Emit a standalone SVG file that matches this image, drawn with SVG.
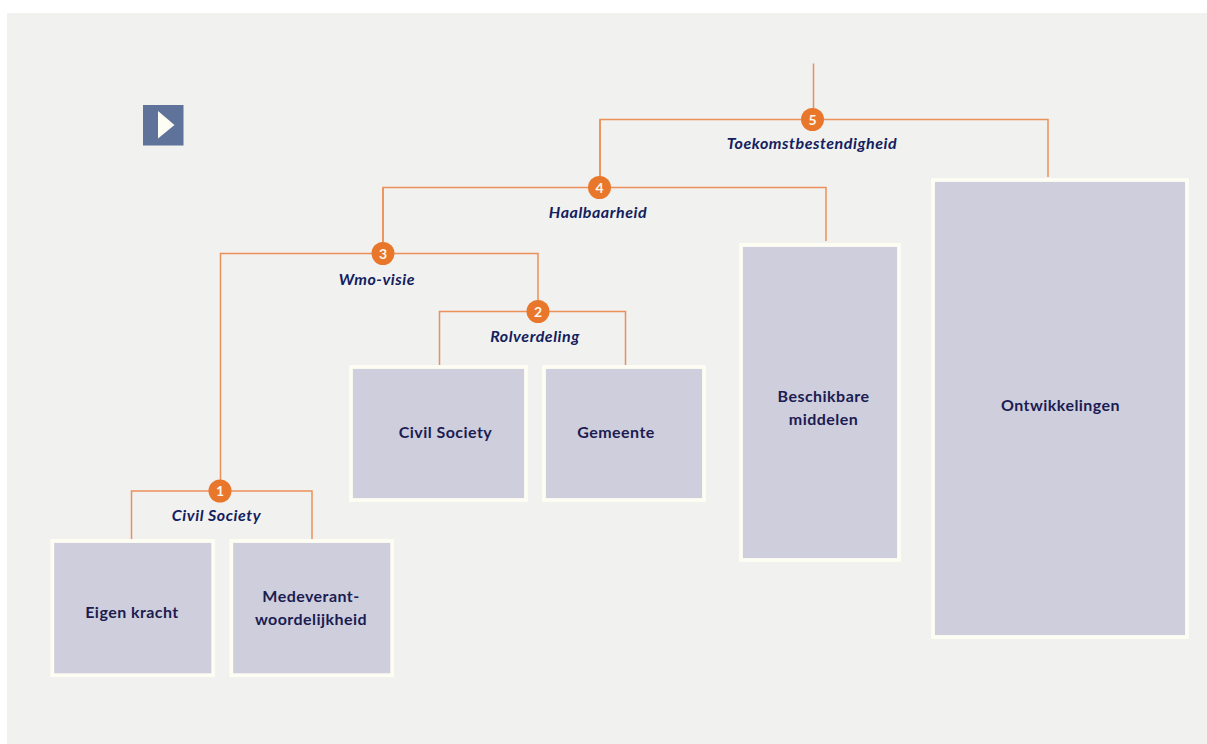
<svg xmlns="http://www.w3.org/2000/svg" width="1207" height="744" viewBox="0 0 1207 744">
<style>
.box{fill:#cfcedc;stroke:#fdfdf3;stroke-width:3.8}
.lbl{font-family:"Lato","Noto Sans",sans-serif;font-size:16px;font-weight:700;fill:#1b1c52;text-anchor:middle;letter-spacing:.45px}
.cap{font-family:"Lato","Noto Sans",sans-serif;font-size:16px;font-weight:700;font-style:italic;fill:#12205e;text-anchor:middle;letter-spacing:.55px}
.dot{fill:#e9772b}
.num{font-family:"Lato","Noto Sans",sans-serif;font-size:14px;font-weight:700;fill:#fdf6e8;text-anchor:middle}
.con{fill:none;stroke:#ec9059;stroke-width:1.5}
</style>
<rect width="1207" height="744" fill="#ffffff"/>
<rect x="7" y="13" width="1200" height="731" fill="#f1f1ef"/>
<g id="play"><rect x="143" y="105" width="40.500" height="40.500" fill="#5f7299"/><polygon points="158,111 174.500,125 158,138.500" fill="#fdfdf3"/></g>
<g id="connectors" class="con">
<path d="M813.500 63.500V119M600 177V119.500H1048V177"/>
<path d="M383 243V187.500H826V241M600 119.500V187"/>
<path d="M220.500 491V253.500H538V311M383 187.500V253"/>
<path d="M439.500 365V311.500H625.500V365"/>
<path d="M131.500 539V491H312V539"/>
</g>
<g id="n1"><circle class="dot" cx="220" cy="491" r="11.500"/><text class="num" x="220" y="496">1</text><text class="cap" x="216.500" y="521">Civil Society</text></g>
<g id="n2"><circle class="dot" cx="538" cy="311.500" r="11.500"/><text class="num" x="538" y="316.500">2</text><text class="cap" x="535" y="342">Rolverdeling</text></g>
<g id="n3"><circle class="dot" cx="383" cy="253.500" r="11.500"/><text class="num" x="383" y="258.500">3</text><text class="cap" x="377" y="284.500">Wmo-visie</text></g>
<g id="n4"><circle class="dot" cx="599.500" cy="187.500" r="11.500"/><text class="num" x="599.500" y="192.500">4</text><text class="cap" x="598" y="218">Haalbaarheid</text></g>
<g id="n5"><circle class="dot" cx="812.500" cy="119.500" r="11.500"/><text class="num" x="812.500" y="124.500">5</text><text class="cap" x="812" y="149">Toekomstbestendigheid</text></g>
<g id="eigen"><rect class="box" x="52.300" y="541" width="160.900" height="134.200"/><text class="lbl" x="132" y="618">Eigen kracht</text></g>
<g id="mede"><rect class="box" x="231.300" y="541" width="160.900" height="134.200"/><text class="lbl" x="311" y="602">Medeverant-</text><text class="lbl" x="311" y="625">woordelijkheid</text></g>
<g id="civil"><rect class="box" x="351" y="367" width="175" height="133"/><text class="lbl" x="445.500" y="438">Civil Society</text></g>
<g id="gemeente"><rect class="box" x="544" y="367" width="160" height="133"/><text class="lbl" x="616" y="438">Gemeente</text></g>
<g id="middelen"><rect class="box" x="741" y="245" width="158" height="315"/><text class="lbl" x="823.500" y="402">Beschikbare</text><text class="lbl" x="823.500" y="425">middelen</text></g>
<g id="ontw"><rect class="box" x="933" y="180" width="254" height="457"/><text class="lbl" x="1060.500" y="411">Ontwikkelingen</text></g>
</svg>
